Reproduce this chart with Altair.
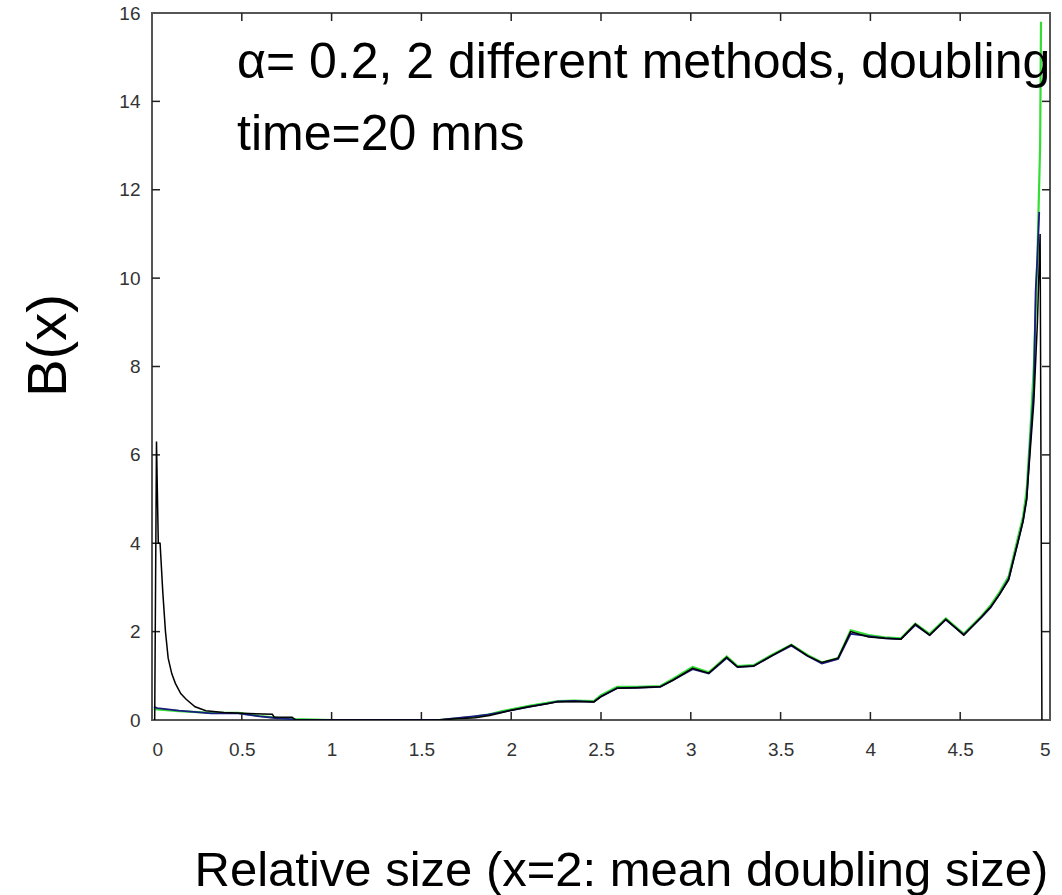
import altair as alt
import pandas as pd

# ---- data ----
x_black = [0.015, 0.025, 0.035, 0.045, 0.06, 0.075, 0.09, 0.11, 0.13, 0.16, 0.19, 0.24, 0.3, 0.4, 0.5,
           0.67, 0.68, 0.78, 0.8, 1.0, 1.59, 1.7, 1.8, 1.88, 1.95, 2.0, 2.1, 2.2, 2.26, 2.35, 2.46,
           2.5, 2.59, 2.7, 2.83, 2.9, 3.01, 3.1, 3.2, 3.26, 3.35, 3.45, 3.56, 3.65, 3.73, 3.82, 3.89,
           3.99, 4.08, 4.17, 4.25, 4.33, 4.42, 4.52, 4.62, 4.67, 4.72, 4.77, 4.82, 4.85, 4.87, 4.89,
           4.91, 4.93, 4.945, 4.955]
y_black = [0.0, 6.3, 4.0, 4.0, 2.9, 2.0, 1.4, 1.05, 0.83, 0.6, 0.47, 0.3, 0.21, 0.17, 0.15,
           0.13, 0.07, 0.06, 0.0, 0.0, 0.0, 0.03, 0.05, 0.1, 0.17, 0.22, 0.3, 0.37, 0.41, 0.42, 0.41,
           0.53, 0.72, 0.73, 0.75, 0.9, 1.17, 1.06, 1.42, 1.2, 1.22, 1.45, 1.7, 1.45, 1.3, 1.4, 2.0,
           1.88, 1.85, 1.83, 2.17, 1.92, 2.28, 1.92, 2.34, 2.56, 2.85, 3.17, 4.0, 4.5, 5.0, 6.1,
           7.2, 9.0, 11.0, 0.0]

x_blue = [0.01, 0.03, 0.15, 0.33, 0.48, 0.6, 0.7, 0.8, 1.0, 1.6, 1.79, 1.87, 1.95, 2.0, 2.1, 2.2,
          2.26, 2.35, 2.46, 2.5, 2.59, 2.7, 2.83, 2.9, 3.01, 3.1, 3.2, 3.26, 3.35, 3.45, 3.56, 3.65,
          3.73, 3.82, 3.89, 3.99, 4.08, 4.17, 4.25, 4.33, 4.42, 4.52, 4.62, 4.67, 4.72, 4.77, 4.82,
          4.85, 4.87, 4.89, 4.91, 4.92, 4.93, 4.94]
y_blue = [0.3, 0.27, 0.21, 0.15, 0.15, 0.08, 0.04, 0.01, 0.0, 0.0, 0.08, 0.12, 0.18, 0.22, 0.3, 0.37,
          0.42, 0.43, 0.41, 0.53, 0.72, 0.73, 0.75, 0.9, 1.15, 1.05, 1.4, 1.2, 1.22, 1.45, 1.68, 1.45,
          1.28, 1.38, 1.95, 1.9, 1.85, 1.83, 2.15, 1.92, 2.27, 1.93, 2.33, 2.55, 2.85, 3.2, 4.0,
          4.5, 5.0, 6.3, 7.5, 9.7, 10.5, 11.5]

x_green = [0.01, 0.03, 0.15, 0.33, 0.48, 0.6, 0.7, 0.8, 1.0, 1.6, 1.79, 1.87, 1.95, 2.0, 2.1, 2.2,
           2.26, 2.35, 2.46, 2.5, 2.59, 2.7, 2.83, 2.9, 3.01, 3.1, 3.2, 3.26, 3.35, 3.45, 3.56, 3.65,
           3.73, 3.82, 3.89, 3.99, 4.08, 4.17, 4.25, 4.33, 4.42, 4.52, 4.62, 4.67, 4.72, 4.77, 4.82,
           4.85, 4.87, 4.89, 4.91, 4.93, 4.945, 4.95]
y_green = [0.25, 0.24, 0.2, 0.16, 0.16, 0.09, 0.05, 0.02, 0.0, 0.0, 0.07, 0.12, 0.2, 0.24, 0.32, 0.39,
           0.43, 0.44, 0.43, 0.56, 0.75, 0.75, 0.77, 0.93, 1.2, 1.08, 1.44, 1.22, 1.24, 1.47, 1.7, 1.47,
           1.3, 1.4, 2.03, 1.92, 1.87, 1.85, 2.18, 1.95, 2.3, 1.95, 2.36, 2.6, 2.9, 3.25, 4.1,
           4.6, 5.2, 6.5, 8.0, 10.5, 13.0, 15.8]

x_ticks = [0, 0.5, 1, 1.5, 2, 2.5, 3, 3.5, 4, 4.5, 5]
y_ticks = [0, 2, 4, 6, 8, 10, 12, 14, 16]

annotation = ["α= 0.2, 2 different methods, doubling", "time=20 mns"]
x_title = "Relative size (x=2: mean doubling size)"
y_title = "B(x)"

W, H = 898, 707
FONT = "Liberation Sans"
TL = 8  # inward tick length in px

xs = alt.Scale(domain=[0, 5], nice=False, zero=False)
ys = alt.Scale(domain=[0, 16], nice=False, zero=False)

x_axis = alt.Axis(values=x_ticks, format="~g", grid=False, ticks=False, domain=False,
                  labelFont=FONT, labelFontSize=19, labelColor="#333", labelPadding=20,
                  title=x_title, titleFont=FONT, titleFontSize=49, titleFontWeight="normal",
                  titleColor="black", titleX=42, titleY=165, titleAlign="left",
                  titleBaseline="alphabetic")
y_axis = alt.Axis(values=y_ticks, grid=False, ticks=False, domain=False,
                  labelFont=FONT, labelFontSize=19, labelColor="#333", labelPadding=12,
                  title=y_title, titleFont=FONT, titleFontSize=56, titleFontWeight="normal",
                  titleColor="black", titleAngle=270, titleX=-104, titleY=332,
                  titleAlign="center", titleBaseline="middle")


def line(xv, yv, color, width):
    df = pd.DataFrame({"x": xv, "y": yv})
    return alt.Chart(df).mark_line(color=color, strokeWidth=width, clip=True).encode(
        x=alt.X("x:Q", scale=xs, axis=x_axis),
        y=alt.Y("y:Q", scale=ys, axis=y_axis),
    )


xt = pd.DataFrame({"x": x_ticks[1:-1]})
yt = pd.DataFrame({"y": y_ticks[1:-1]})
tick_color = "#222"
ticks_bottom = alt.Chart(xt).mark_rule(color=tick_color, strokeWidth=1.5).encode(
    x=alt.X("x:Q", scale=xs, axis=x_axis), y=alt.value(H), y2=alt.value(H - TL))
ticks_top = alt.Chart(xt).mark_rule(color=tick_color, strokeWidth=1.5).encode(
    x=alt.X("x:Q", scale=xs, axis=x_axis), y=alt.value(0), y2=alt.value(TL))
ticks_left = alt.Chart(yt).mark_rule(color=tick_color, strokeWidth=1.5).encode(
    y=alt.Y("y:Q", scale=ys, axis=y_axis), x=alt.value(0), x2=alt.value(TL))
ticks_right = alt.Chart(yt).mark_rule(color=tick_color, strokeWidth=1.5).encode(
    y=alt.Y("y:Q", scale=ys, axis=y_axis), x=alt.value(W - TL), x2=alt.value(W))

ann = alt.Chart(pd.DataFrame({"t": [annotation]})).mark_text(
    align="left", baseline="alphabetic", font=FONT, fontSize=50, lineHeight=72, color="black"
).encode(text="t", x=alt.value(85), y=alt.value(65))

chart = alt.layer(
    ticks_bottom, ticks_top, ticks_left, ticks_right,
    line(x_green, y_green, "#33dd33", 2.2),
    line(x_blue, y_blue, "#1a1a80", 1.8),
    line(x_black, y_black, "#000000", 1.5),
    ann,
).properties(
    width=W, height=H,
    autosize=alt.AutoSizeParams(type="none"),
    padding={"left": 152, "top": 13, "right": 12, "bottom": 175},
    background="white",
).configure_view(stroke="#555", strokeWidth=2)

chart.save("out.html", embed_options={"renderer": "svg", "actions": False})
